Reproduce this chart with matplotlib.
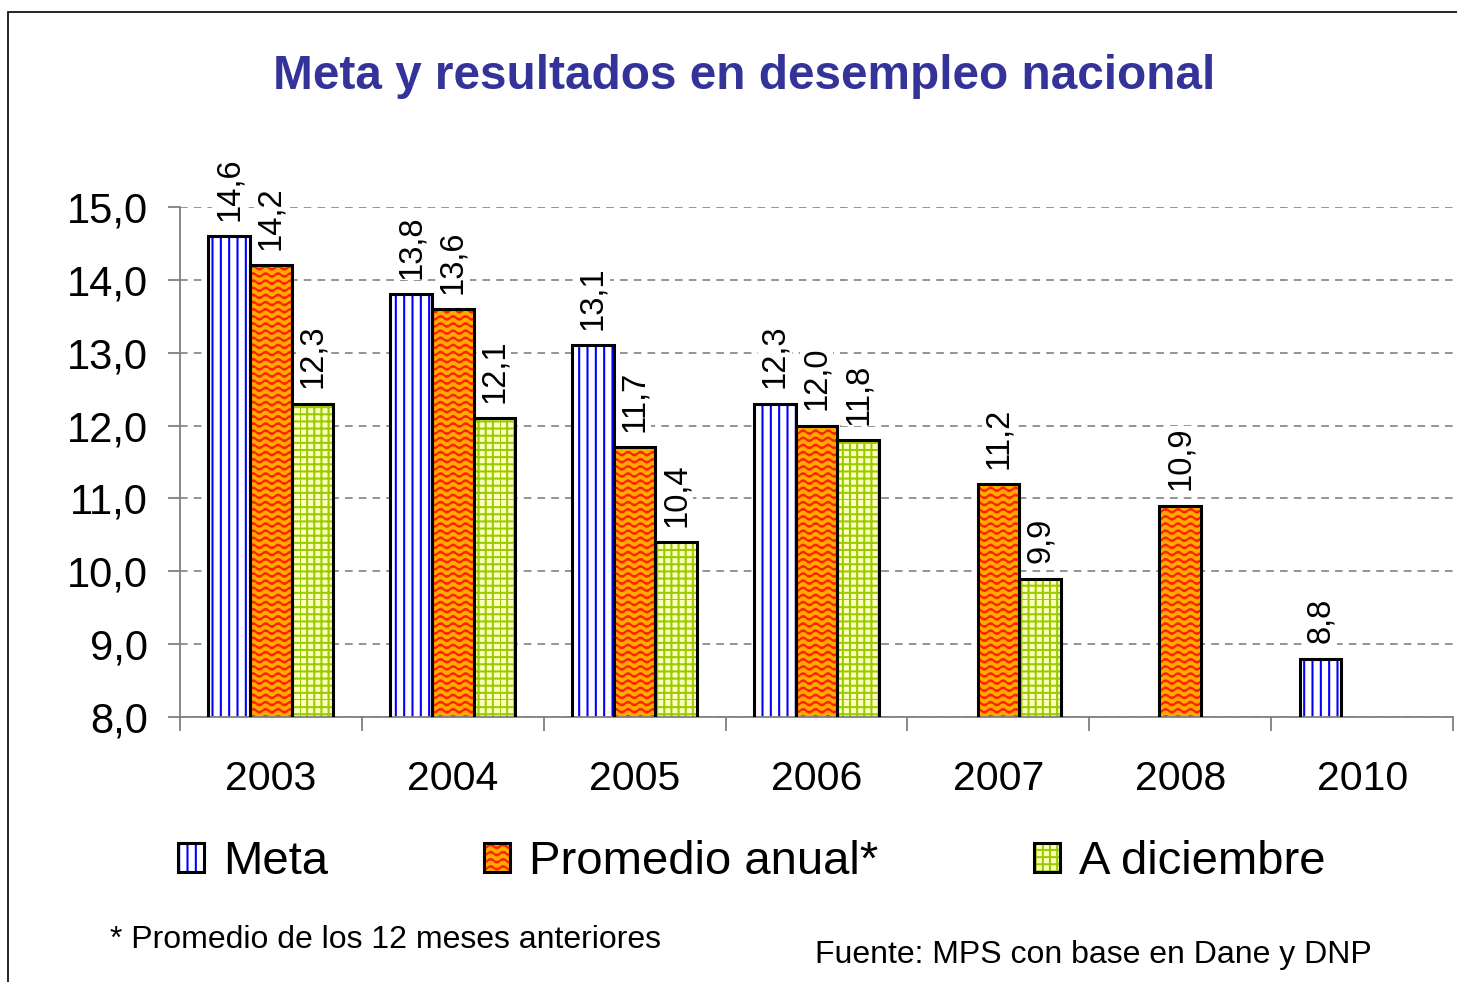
import warnings
import numpy as np
import matplotlib
matplotlib.use("Agg")
import matplotlib.pyplot as plt
import matplotlib.hatch as mhatch
from matplotlib.path import Path
from matplotlib.patches import Patch, Rectangle
from matplotlib.ticker import FuncFormatter, FixedLocator

warnings.filterwarnings("ignore")

# datos del gráfico
years = ["2003", "2004", "2005", "2006", "2007", "2008", "2010"]
meta = [14.6, 13.8, 13.1, 12.3, np.nan, np.nan, 8.8]
promedio = [14.2, 13.6, 11.7, 12.0, 11.2, 10.9, np.nan]
diciembre = [12.3, 12.1, 10.4, 11.8, 9.9, np.nan, np.nan]
series_names = ["Meta", "Promedio anual*", "A diciembre"]


# tramas tipo Excel que no existen en matplotlib: ondas ('~') y cuadrícula ('g')
class WaveHatch(mhatch.HatchPatternBase):
    def __init__(self, hatch, density):
        self.rows = 14 if "~" in hatch else 0
        self.steps = 8 * 12
        self.num_vertices = self.rows * (self.steps + 1)

    def set_vertices_and_codes(self, vertices, codes):
        t = np.linspace(0, 1, self.steps + 1)
        k = 0
        for i in range(self.rows):
            y0 = (i + 0.5) / self.rows
            vertices[k:k + self.steps + 1, 0] = t
            vertices[k:k + self.steps + 1, 1] = y0 + 0.018 * np.sin(2 * np.pi * 8 * t)
            codes[k] = Path.MOVETO
            codes[k + 1:k + self.steps + 1] = Path.LINETO
            k += self.steps + 1


class GridHatch(mhatch.HatchPatternBase):
    def __init__(self, hatch, density):
        self.n = 14 if "g" in hatch else 0
        self.num_vertices = self.n * 4

    def set_vertices_and_codes(self, vertices, codes):
        s = np.linspace(0, 1, self.n, endpoint=False)
        vertices[0:self.n * 2:2, 0] = 0
        vertices[1:self.n * 2:2, 0] = 1
        vertices[0:self.n * 2:2, 1] = s
        vertices[1:self.n * 2:2, 1] = s
        vertices[self.n * 2::2, 1] = 0
        vertices[self.n * 2 + 1::2, 1] = 1
        vertices[self.n * 2::2, 0] = s
        vertices[self.n * 2 + 1::2, 0] = s
        codes[0::2] = Path.MOVETO
        codes[1::2] = Path.LINETO


mhatch._hatch_types.append(WaveHatch)
mhatch._hatch_types.append(GridHatch)

plt.rcParams["font.family"] = ["Liberation Sans", "DejaVu Sans"]
plt.rcParams["hatch.linewidth"] = 1.5

styles = [
    dict(facecolor="white", edgecolor="#0000ff", hatch="||"),
    dict(facecolor="#ffaa00", edgecolor="#ff2200", hatch="~"),
    dict(facecolor="#ffffc0", edgecolor="#99cc00", hatch="g"),
]

fig = plt.figure(figsize=(14.57, 9.82), dpi=100)
ax = fig.add_axes([0.1235, 0.2699, 0.8738, 0.5193])

x = np.arange(len(years))
w = 0.229
data = [meta, promedio, diciembre]
for j, vals in enumerate(data):
    xs = x + (j - 1) * w
    ax.bar(xs, vals, w, bottom=0, linewidth=0, zorder=2, **styles[j])
    ax.bar(xs, vals, w, fill=False, edgecolor="black", linewidth=2.2, zorder=3)
    for xi, v in zip(xs, vals):
        if np.isnan(v):
            continue
        ax.annotate(f"{v:.1f}".replace(".", ","), xy=(xi, v), xytext=(0, 11),
                    textcoords="offset points", rotation=90, ha="center", va="bottom",
                    fontsize=23.5, zorder=4, annotation_clip=False,
                    bbox=dict(facecolor="white", edgecolor="none", pad=1))

ax.set_ylim(8, 15)
ax.set_xlim(-0.5, len(years) - 0.5)
ax.set_yticks(np.arange(8, 15.5, 1))
ax.yaxis.set_major_formatter(FuncFormatter(lambda v, p: f"{v:.1f}".replace(".", ",")))
ax.set_xticks(x)
ax.set_xticklabels(years)
ax.xaxis.set_minor_locator(FixedLocator(np.arange(-0.5, len(years), 1)))

ax.tick_params(axis="y", which="major", length=9, width=1.3, color="#808080", pad=14, labelsize=30)
ax.tick_params(axis="x", which="major", length=0, pad=31, labelsize=29.5)
ax.tick_params(axis="x", which="minor", length=10, width=1.3, color="#808080")

for s in ["top", "right"]:
    ax.spines[s].set_visible(False)
for s in ["left", "bottom"]:
    ax.spines[s].set_color("#808080")
    ax.spines[s].set_linewidth(1.3)

ax.set_axisbelow(True)
ax.grid(axis="y", color="#777777", linestyle=(0, (5, 4)), linewidth=1.1)
ax.patch.set_visible(False)

# leyenda
handles = []
for st in styles:
    handles.append((Patch(linewidth=0, **st), Patch(fill=False, edgecolor="black", linewidth=2.2)))
fig.legend(handles, series_names, loc="center", bbox_to_anchor=(0.516, 0.122), ncol=3,
           frameon=False, fontsize=34, handlelength=0.55, handleheight=0.55,
           handletextpad=0.4, columnspacing=3.3)

fig.text(0.5107, 0.9226, "Meta y resultados en desempleo nacional", ha="center", va="center",
         fontsize=34.4, fontweight="bold", color="#333399")
fig.text(0.0755, 0.0428, "* Promedio de los 12 meses anteriores", ha="left", va="center", fontsize=23)
fig.text(0.5594, 0.0275, "Fuente: MPS con base en Dane y DNP", ha="left", va="center", fontsize=23)

fig.patches.append(Rectangle((8 / 1457, -0.1), 1.2, 1.1 - 12 / 982, transform=fig.transFigure,
                             fill=False, edgecolor="black", linewidth=1.2))

fig.savefig("out.png", dpi=100)
